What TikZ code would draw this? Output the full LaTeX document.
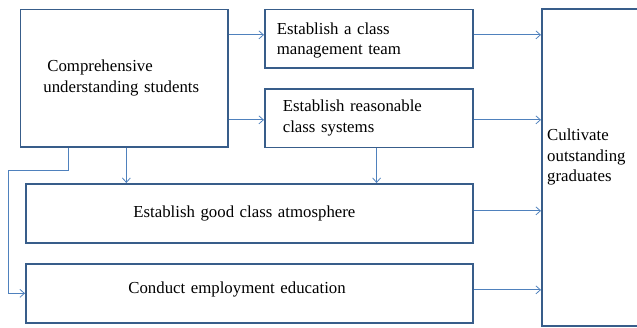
\documentclass[tikz,border=0pt]{standalone}
\usepackage{fontspec}
\setmainfont{Liberation Serif}
\usetikzlibrary{arrows.meta}
\definecolor{boxc}{RGB}{56,93,138}
\definecolor{arrc}{RGB}{79,129,189}
\tikzset{
  box/.style={draw=boxc, line width=1.7pt, rectangle, anchor=north west, inner ysep=0pt,
    font=\fontsize{16.8}{20.5}\selectfont},
  arr/.style={draw=arrc, line width=0.8pt, -{Straight Barb[length=4.5pt,width=8pt]}},
  lbl/.style={font=\fontsize{16.8}{20.5}\selectfont, inner sep=0pt, align=left}
}
\begin{document}
\begin{tikzpicture}[x=1pt,y=-1pt]
\useasboundingbox (0,0) rectangle (637,327);
\node[box, minimum width=207.5pt, minimum height=137.5pt, inner xsep=23pt, text width=161.5pt, align=left]
  (A) at (19.5,8.5) {\hspace{4pt}Comprehensive\\understanding students};
\node[box, minimum width=208pt, minimum height=58.5pt, inner xsep=12pt, text width=184pt, align=left]
  (B) at (264,8.5) {\raisebox{-2pt}[\height][\depth]{Establish a class}\\\raisebox{-2pt}[\height][\depth]{management team}};
\node[box, minimum width=208pt, minimum height=58.5pt, inner xsep=18pt, text width=172pt, align=left]
  (C) at (264,88) {Establish reasonable\\class systems};
\node[box, minimum width=447pt, minimum height=59pt, inner xsep=107.5pt, text width=232pt, align=left]
  (D) at (25,183) {Establish good class atmosphere};
\node[box, minimum width=447pt, minimum height=59pt, inner xsep=102.5pt, text width=242pt, align=left]
  (E) at (25,263) {\raisebox{4pt}[\height][\depth]{Conduct employment education}};
\node[box, minimum width=100pt, minimum height=317pt] (F) at (541,8) {};
\node[lbl, anchor=west] (Ft) at (547,157) {Cultivate\\outstanding\\graduates};
% connectors
\draw[arr] ([yshift=3.75pt]B.west -| A.east) -- ([yshift=3.75pt]B.west);
\draw[arr] ([yshift=-1.75pt]C.west -| A.east) -- ([yshift=-1.75pt]C.west);
\draw[arr] ([yshift=3.75pt]B.east) -- ([yshift=3.75pt]B.east -| F.west);
\draw[arr] ([yshift=-1.75pt]C.east) -- ([yshift=-1.75pt]C.east -| F.west);
\draw[arr] ([yshift=2.5pt]D.east) -- ([yshift=2.5pt]D.east -| F.west);
\draw[arr] ([yshift=3.5pt]E.east) -- ([yshift=3.5pt]E.east -| F.west);
\draw[arr] ([xshift=2.25pt]A.south) -- ([xshift=2.25pt]A.south |- D.north);
\draw[arr] ([xshift=7.75pt]C.south) -- ([xshift=7.75pt]C.south |- D.north);
\draw[arr] ([xshift=-55.25pt]A.south) -- ++(0,23) -| ([xshift=-17pt]E.west) -- (E.west);
\end{tikzpicture}
\end{document}
